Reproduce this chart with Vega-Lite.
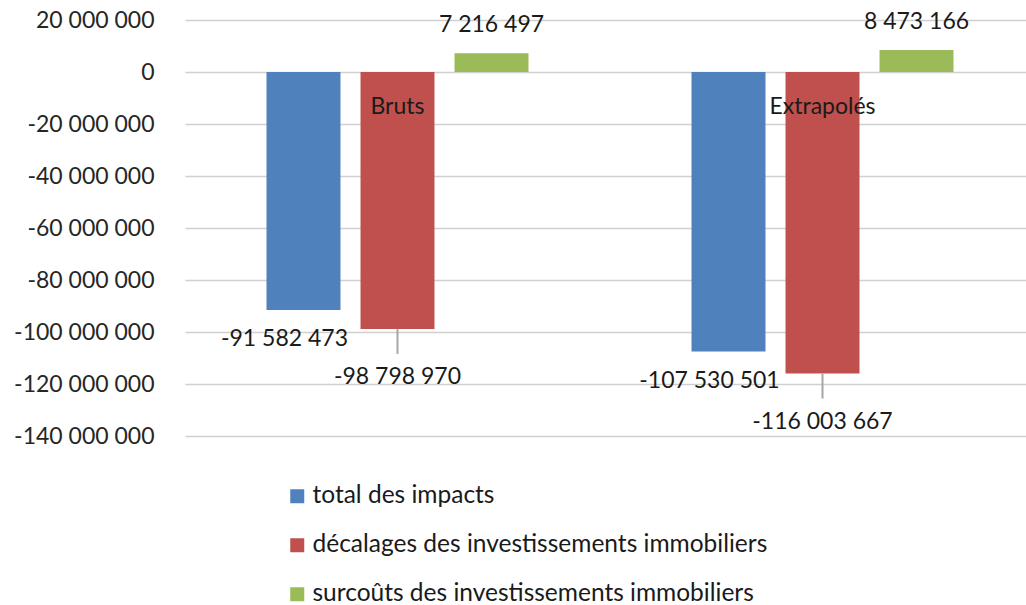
{
  "$schema": "https://vega.github.io/schema/vega-lite/v6.json",
  "width": 841,
  "height": 416,
  "autosize": "none",
  "padding": {"left": 185, "top": 20, "right": 0, "bottom": 169},
  "background": "white",
  "config": {
    "view": {"stroke": null},
    "font": "Lato",
    "locale": {"number": {"decimal": ",", "thousands": " ", "grouping": [3], "currency": ["", " €"], "minus": "-"}}
  },
  "data": {"values": [
    {"categorie": "Bruts", "serie": "total des impacts", "valeur": -91582473},
    {"categorie": "Bruts", "serie": "décalages des investissements immobiliers", "valeur": -98798970},
    {"categorie": "Bruts", "serie": "surcoûts des investissements immobiliers", "valeur": 7216497},
    {"categorie": "Extrapolés", "serie": "total des impacts", "valeur": -107530501},
    {"categorie": "Extrapolés", "serie": "décalages des investissements immobiliers", "valeur": -116003667},
    {"categorie": "Extrapolés", "serie": "surcoûts des investissements immobiliers", "valeur": 8473166}
  ]},
  "encoding": {
    "x": {"field": "categorie", "type": "nominal", "sort": ["Bruts", "Extrapolés"], "scale": {"range": [0, 850], "paddingInner": 0, "paddingOuter": 0}, "axis": null},
    "y": {"field": "valeur", "type": "quantitative",
      "scale": {"domain": [-140000000, 20000000], "nice": false},
      "axis": {"title": null, "values": [20000000, 0, -20000000, -40000000, -60000000, -80000000, -100000000, -120000000, -140000000],
        "format": ",d", "labelFontSize": 23, "labelColor": "#262626", "labelPadding": 31, "ticks": false, "domain": false,
        "grid": true, "gridColor": "#d0d0d0", "gridWidth": 1.5}}
  },
  "layer": [
    {
      "mark": {"type": "bar"},
      "encoding": {
        "xOffset": {"field": "serie", "type": "nominal",
          "scale": {"domain": ["total des impacts", "décalages des investissements immobiliers", "surcoûts des investissements immobiliers"], "paddingInner": 0.213, "paddingOuter": 0.867}},
        "color": {"field": "serie", "type": "nominal",
          "scale": {"domain": ["total des impacts", "décalages des investissements immobiliers", "surcoûts des investissements immobiliers"], "range": ["#4f81bd", "#c0504d", "#9bbb59"]},
          "legend": {"orient": "none", "legendX": 100, "legendY": 464, "direction": "vertical", "title": null, "symbolType": "square", "symbolSize": 196, "labelFontSize": 24.5, "labelLimit": 0, "labelColor": "#1a1a1a", "rowPadding": 24, "labelOffset": 3, "padding": 0, "symbolStrokeWidth": 0}}
      }
    },
    {
      "transform": [{"filter": "datum.serie === 'décalages des investissements immobiliers'"}],
      "mark": {"type": "rule", "color": "#a6a6a6", "strokeWidth": 2, "y2Offset": 25},
      "encoding": {
        "xOffset": {"field": "serie", "type": "nominal"},
        "y2": {"field": "valeur"}
      }
    },
    {
      "transform": [{"filter": "datum.serie === 'total des impacts'"}],
      "mark": {"type": "text", "fontSize": 23, "color": "#1a1a1a", "dx": -19, "dy": 29, "baseline": "middle"},
      "encoding": {
        "xOffset": {"field": "serie", "type": "nominal"},
        "text": {"field": "valeur", "type": "quantitative", "format": ",d"}
      }
    },
    {
      "transform": [{"filter": "datum.serie === 'décalages des investissements immobiliers'"}],
      "mark": {"type": "text", "fontSize": 23, "color": "#1a1a1a", "dy": 48, "baseline": "middle"},
      "encoding": {
        "xOffset": {"field": "serie", "type": "nominal"},
        "text": {"field": "valeur", "type": "quantitative", "format": ",d"}
      }
    },
    {
      "transform": [{"filter": "datum.serie === 'surcoûts des investissements immobiliers'"}],
      "mark": {"type": "text", "fontSize": 23, "color": "#1a1a1a", "dy": -28, "baseline": "middle"},
      "encoding": {
        "xOffset": {"field": "serie", "type": "nominal"},
        "text": {"field": "valeur", "type": "quantitative", "format": ",d"}
      }
    },
    {
      "transform": [{"filter": "datum.serie === 'total des impacts'"}],
      "mark": {"type": "text", "fontSize": 23, "color": "#1a1a1a", "dy": 35, "baseline": "middle"},
      "encoding": {
        "y": {"datum": 0},
        "text": {"field": "categorie", "type": "nominal"}
      }
    }
  ]
}
